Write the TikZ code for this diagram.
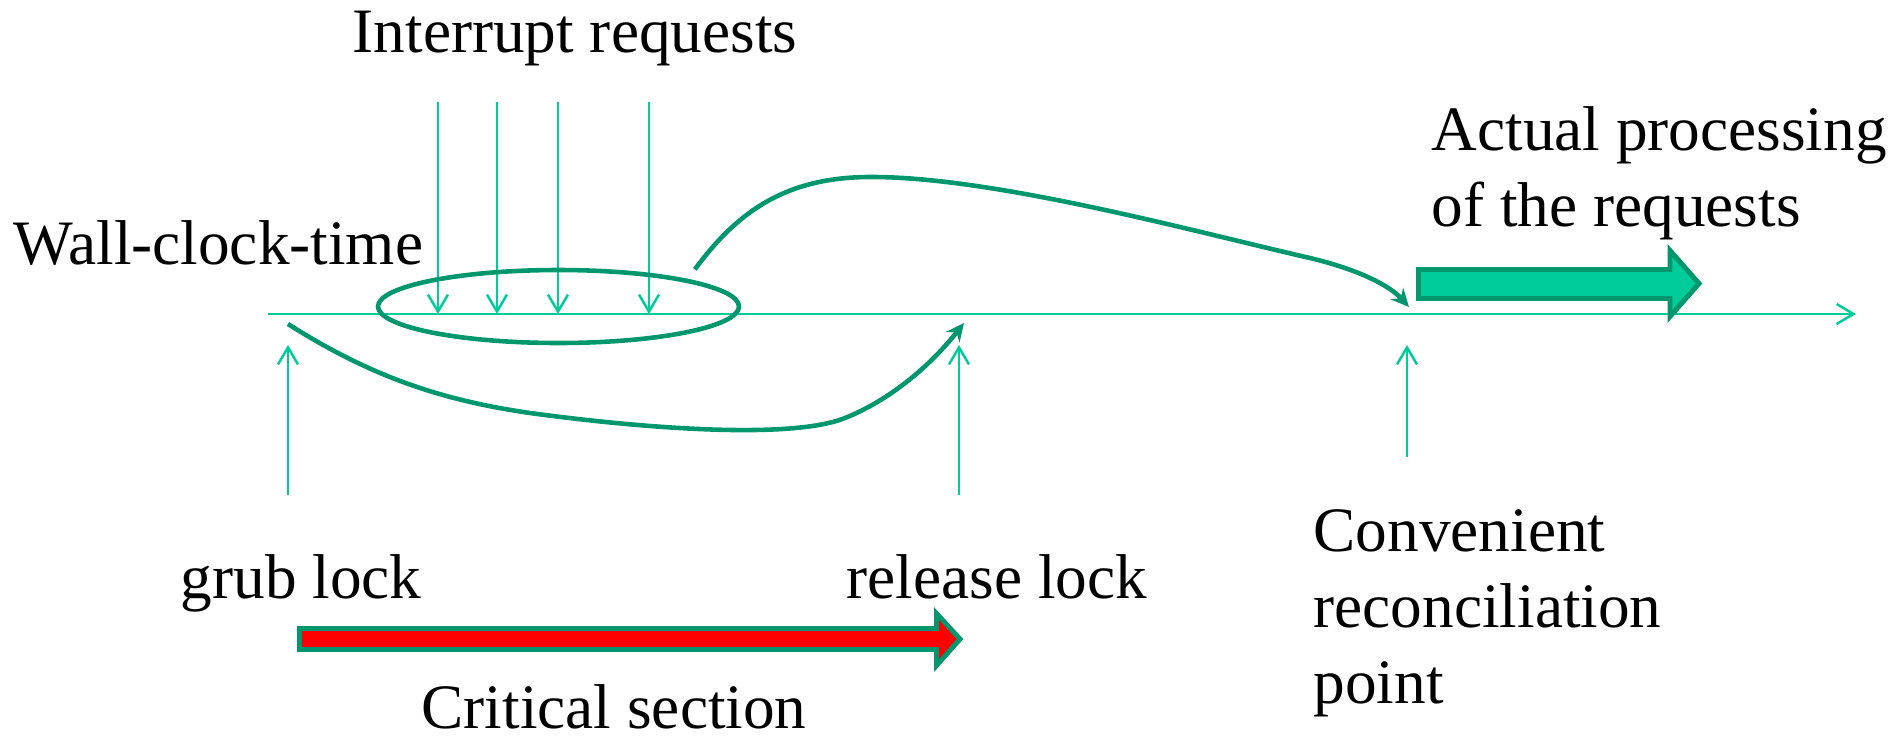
\documentclass[tikz,border=0pt]{standalone}
\usepackage{fontspec}
\setmainfont{Liberation Serif}
\usetikzlibrary{arrows.meta,shapes.geometric}
\definecolor{clockgreen}{RGB}{0,204,153}
\definecolor{curvegreen}{RGB}{0,150,110}

\begin{document}
\begin{tikzpicture}[
    font=\fontsize{18}{21.6}\selectfont,
    label text/.style={inner sep=0pt, anchor=base west, align=left},
    thin arrow/.style={draw=clockgreen, line width=0.7pt, -{Straight Barb[length=1.7mm,width=2mm]}},
    flow arrow/.style={draw=curvegreen, line width=1.3pt, -{Stealth[length=1.8mm,width=1.7mm]}},
    block arrow/.style={draw=curvegreen, line width=1.4pt, line join=miter}
  ]
  \useasboundingbox (0,0) rectangle (18.97,7.38);

  \coordinate (t0) at (2.68,4.24);
  \coordinate (t1) at (18.56,4.24);
  \coordinate (lock-top) at (0,3.93);
  \draw[thin arrow] (t0) -- (t1);
  \node[label text] (wall) at (0.13,4.74) {Wall-clock-time};

  \node[label text, anchor=base] (irq) at (5.75,6.86) {Interrupt requests};
  \foreach \x [count=\i] in {4.38,4.97,5.58,6.49} {
    \coordinate (irq\i) at (\x,6.36);
    \draw[thin arrow] (irq\i) -- (irq\i |- t0);
  }
  \node[ellipse, draw=curvegreen, line width=1.3pt, minimum width=3.61cm,
        minimum height=0.73cm, inner sep=0pt] (burst) at (5.585,4.315) {};

  \coordinate (grub) at (2.88,2.43);
  \coordinate (release) at (9.59,2.43);
  \coordinate (recon) at (14.07,2.81);
  \draw[thin arrow] (grub) -- (grub |- lock-top);
  \draw[thin arrow] (release) -- (release |- lock-top);
  \draw[thin arrow] (recon) -- (recon |- lock-top);

  \node[label text] (grubtxt) at (1.80,1.40) {grub lock};
  \node[label text] (releasetxt) at (8.46,1.40) {release lock};
  \node[label text, text depth=0pt] (crittxt) at (4.21,0.10) {Critical section};
  \node[label text] (recontxt) at (13.13,0.35) {Convenient\\reconciliation\\point};
  \node[label text] (actual) at (14.31,5.12) {Actual processing\\of the requests};

  \draw[block arrow, fill=red] (2.995,1.095) -- (9.365,1.095) -- (9.365,1.245)
    -- (9.60,0.99) -- (9.365,0.725) -- (9.365,0.885) -- (2.995,0.885) -- cycle;
  \draw[block arrow, fill=clockgreen] (14.185,4.685) -- (16.70,4.685) -- (16.70,4.875)
    -- (16.99,4.545) -- (16.70,4.215) -- (16.70,4.395) -- (14.185,4.395) -- cycle;

  \coordinate (grub-start) at (2.88,4.14);
  \coordinate (lock-hit) at (9.64,4.15);
  \coordinate (recon-hit) at (14.09,4.31);
  \draw[flow arrow] (grub-start) .. controls (3.7,3.62) and (4.4,3.38) .. (5.3,3.25)
    .. controls (6.4,3.1) and (7.9,2.98) .. (8.45,3.2)
    .. controls (8.9,3.38) and (9.3,3.72) .. (lock-hit);
  \draw[flow arrow, shorten <=1.2mm] (burst.north east) .. controls (7.4,5.3) and (7.9,5.62) .. (8.75,5.61)
    .. controls (10.0,5.6) and (12.0,5.05) .. (13.1,4.8)
    .. controls (13.6,4.68) and (13.9,4.52) .. (recon-hit);
\end{tikzpicture}
\end{document}
